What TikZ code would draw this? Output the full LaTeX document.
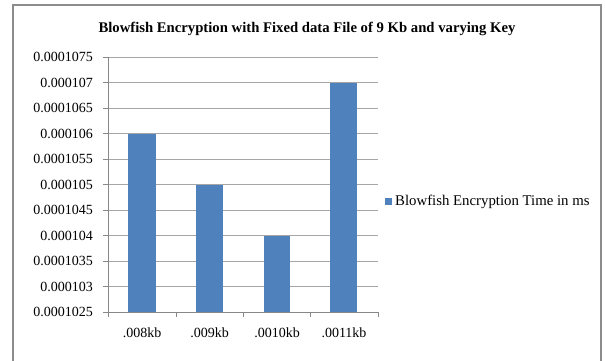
\documentclass[tikz,border=0pt]{standalone}
\usepackage{fontspec}
\setmainfont{Liberation Serif}
\definecolor{barblue}{HTML}{4F81BD}
\definecolor{gridgray}{HTML}{A6A6A6}
\definecolor{axisgray}{HTML}{888888}
\definecolor{framegray}{HTML}{8C8C8C}
\begin{document}
\begin{tikzpicture}[x=1pt,y=-1pt,
  ylab/.style={anchor=east,inner sep=0pt,font=\fontsize{14}{14}\selectfont},
  xlab/.style={anchor=center,inner sep=0pt,font=\fontsize{14}{14}\selectfont},
  gridline/.style={draw=gridgray,line width=0.9pt},
  axisline/.style={draw=axisgray,line width=0.9pt},
  bar/.style={fill=barblue,draw=none}]
\useasboundingbox (0,0) rectangle (605,360);
\fill[white] (0,0) rectangle (605,360);
% frame
\draw[framegray,line width=1.2pt] (13,365) -- (13,5) -- (601,5) -- (601,365);
% title
\node[inner sep=0pt,font=\fontsize{14.7}{14}\selectfont\bfseries] (title) at (307,29) {Blowfish Encryption with Fixed data File of 9 Kb and varying Key};
% gridlines and y labels
\foreach \k/\lab in {0/0.0001025,1/0.000103,2/0.0001035,3/0.000104,4/0.0001045,5/0.000105,6/0.0001055,7/0.000106,8/0.0001065,9/0.000107,10/0.0001075}{
  \pgfmathsetmacro{\yy}{312-\k*25.5}
  \ifnum\k>0 \draw[gridline] (108,\yy) -- (378,\yy);\fi
  \draw[axisline] (103,\yy) -- (108,\yy);
  \node[ylab] (yl\k) at (93,\yy) {\lab};
}
% bars
\fill[bar] (128,312) rectangle (156,133.5);
\fill[bar] (196,312) rectangle (223,184.5);
\fill[bar] (264,312) rectangle (290,235.5);
\fill[bar] (330,312) rectangle (357,82.5);
% axes
\draw[axisline] (108,57) -- (108,312) -- (378,312);
\foreach \xx in {108,176,243,310,378}{\draw[axisline] (\xx,312) -- (\xx,317);}
% x labels
\node[xlab] (c1) at (142,333) {.008kb};
\node[xlab] (c2) at (209.5,333) {.009kb};
\node[xlab] (c3) at (277,333) {.0010kb};
\node[xlab] (c4) at (344,333) {.0011kb};
% legend
\fill[barblue] (385,198) rectangle (392,205);
\node[anchor=west,inner sep=0pt,font=\fontsize{14.8}{14}\selectfont] (leg) at (395,202) {Blowfish Encryption Time in ms};
\end{tikzpicture}
\end{document}
